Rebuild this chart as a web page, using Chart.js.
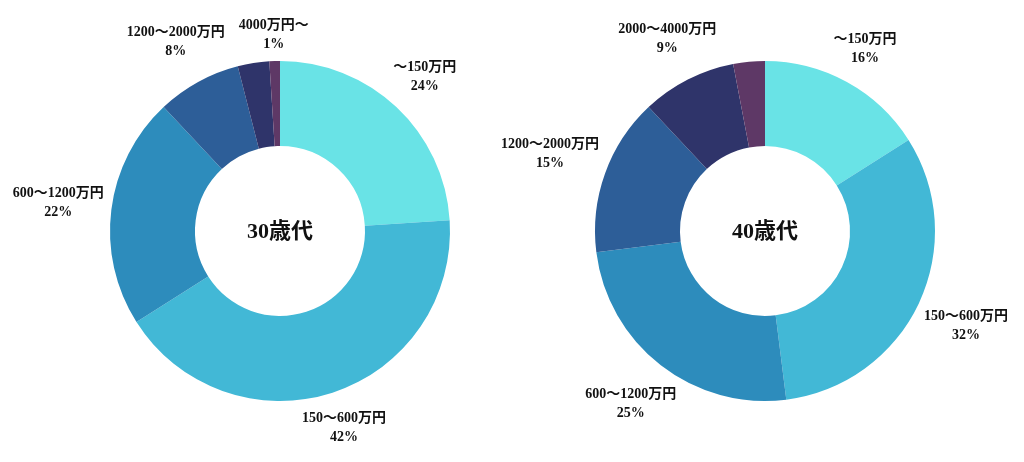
<!DOCTYPE html>
<html>
<head>
<meta charset="utf-8">
<script src="https://cdn.jsdelivr.net/npm/chart.js@4.4.1/dist/chart.umd.min.js"></script>
<style>
    html, body { margin: 0; padding: 0; background: #fff; overflow: hidden; }
    #wrap { position: relative; width: 1024px; height: 462px; }
    .box { position: absolute; top: 0; height: 462px; }
    #box30 { left: 0; width: 560px; }
    #box40 { left: 470px; width: 554px; }
</style>
</head>
<body>
<div id="wrap">
    <div class="box" id="box30"><canvas id="chart30"></canvas></div>
    <div class="box" id="box40"><canvas id="chart40"></canvas></div>
</div>
<script>
var categories = ["～150万円", "150～600万円", "600～1200万円", "1200～2000万円", "2000～4000万円", "4000万円～"];
var values30 = [24, 42, 22, 8, 3, 1];
var values40 = [16, 32, 25, 15, 9, 3];
// which slices get an outside label
var showLabel30 = [true, true, true, true, false, true];
var showLabel40 = [true, true, true, true, true, false];
var colors = ["#69e3e6", "#42b8d6", "#2d8cbc", "#2d5e98", "#2f346a", "#5e3866"];

var labelFont = "bold 14px 'Liberation Serif', 'DejaVu Serif', 'Noto Sans CJK JP', serif";
var centerFont = "bold 22px 'Liberation Serif', 'DejaVu Serif', 'Noto Sans CJK JP', serif";

var labelsPlugin = {
    id: "outsideLabels",
    afterDatasetsDraw: function(chart, args, opts){
        var ctx = chart.ctx;
        var meta = chart.getDatasetMeta(0);
        var ds = chart.data.datasets[0];
        var lineH = 19;

        ctx.save();
        ctx.font = labelFont;
        ctx.fillStyle = "#111";
        ctx.textAlign = "center";
        ctx.textBaseline = "middle";

        for(var i = 0; i < meta.data.length; i++){
            if(!opts.show[i]) continue;
            var arc = meta.data[i];
            var a = (arc.startAngle + arc.endAngle) / 2;
            var ux = Math.cos(a);
            var uy = Math.sin(a);
            var lines = [chart.data.labels[i], ds.data[i] + "%"];
            var w = Math.max(ctx.measureText(lines[0]).width, ctx.measureText(lines[1]).width);
            var h = lineH * 2;
            var r = arc.outerRadius + 6 + Math.abs(ux) * w / 2 + Math.abs(uy) * h / 2;
            var cx = arc.x + ux * r;
            var cy = arc.y + uy * r;
            ctx.fillText(lines[0], cx, cy - lineH / 2);
            ctx.fillText(lines[1], cx, cy + lineH / 2);
        }
        ctx.restore();

        var ca = chart.chartArea;
        ctx.save();
        ctx.font = centerFont;
        ctx.fillStyle = "#111";
        ctx.textAlign = "center";
        ctx.textBaseline = "middle";
        ctx.fillText(opts.title, (ca.left + ca.right) / 2, (ca.top + ca.bottom) / 2 + 1);
        ctx.restore();
    }
};

function makeChart(id, values, show, title, padLeft, padRight){
    return new Chart(document.getElementById(id).getContext("2d"), {
        type: "doughnut",
        data: {
            labels: categories,
            datasets: [
                {
                    data: values,
                    backgroundColor: colors,
                    borderWidth: 0
                }
            ]
        },
        options: {
            responsive: true,
            maintainAspectRatio: false,
            animation: false,
            cutout: "50%",
            layout: {
                padding: {top: 61, bottom: 61, left: padLeft, right: padRight}
            },
            plugins: {
                legend: {display: false},
                tooltip: {enabled: false},
                outsideLabels: {show: show, title: title}
            }
        },
        plugins: [labelsPlugin]
    });
}

makeChart("chart30", values30, showLabel30, "30歳代", 61, 61);
makeChart("chart40", values40, showLabel40, "40歳代", 79, 43);
</script>
</body>
</html>
